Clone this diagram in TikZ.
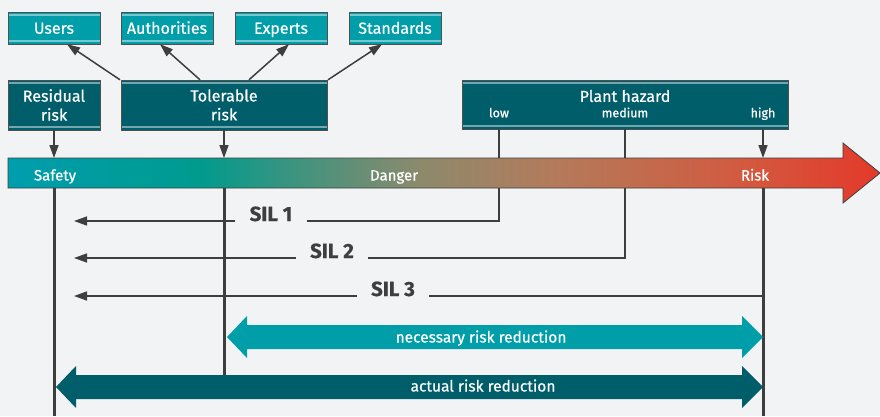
\documentclass[tikz,border=0pt]{standalone}
\usepackage{fontspec}
\setmainfont[FakeBold=0.6]{Fira Sans}
\usetikzlibrary{positioning,arrows.meta}

\definecolor{bggrey}{HTML}{F2F3F5}
\definecolor{linegrey}{HTML}{3E3E3E}
\definecolor{boxedge}{HTML}{505050}
\definecolor{tealbright}{HTML}{009EA8}
\definecolor{tealdeep}{HTML}{005E6A}
\definecolor{barA}{HTML}{009DAE}
\definecolor{barB}{HTML}{009B8E}
\definecolor{barC}{HTML}{8C8A6C}
\definecolor{barD}{HTML}{B47A5A}
\definecolor{barE}{HTML}{D25A40}
\definecolor{barF}{HTML}{E4392A}

% stops live between 25bp and 75bp, the part TikZ fits to the path
\pgfdeclarehorizontalshading{riskbar}{100bp}{color(0bp)=(barA); color(25bp)=(barA); color(36bp)=(barB); color(48.5bp)=(barC); color(56.5bp)=(barD); color(67bp)=(barE); color(75bp)=(barF); color(100bp)=(barF)}

\tikzset{
  stripes/.style={path picture={
    \draw[white,opacity=.45,line width=1.5pt] ([yshift=-3pt]path picture bounding box.north west) -- ([yshift=-3pt]path picture bounding box.north east);
    \draw[white,opacity=.45,line width=1.5pt] ([yshift=3pt]path picture bounding box.south west) -- ([yshift=3pt]path picture bounding box.south east);}},
  lightbox/.style={draw=boxedge,fill=tealbright,text=white,inner sep=0pt,minimum width=92pt,minimum height=32pt,text height=11.5pt,text depth=0pt,font=\fontsize{16}{19}\selectfont,stripes},
  darkbox/.style={draw=boxedge,fill=tealdeep,text=white,inner sep=0pt,minimum height=50pt,align=center,font=\fontsize{16}{19}\selectfont,stripes},
  arr/.style={draw=linegrey,line width=1.5pt,-{Triangle[length=13pt,width=9pt]}},
  post/.style={draw=linegrey,line width=3pt},
  silline/.style={draw=linegrey,line width=1.6pt},
  sillabel/.style={anchor=base,inner xsep=14pt,inner ysep=2pt,text=linegrey,font=\fontsize{20.5}{24}\bfseries\selectfont},
  barlabel/.style={text=white,inner sep=1pt,text height=11pt,text depth=0pt,font=\fontsize{15}{18}\selectfont},
  reduclabel/.style={text=white,inner sep=1pt,text height=11pt,text depth=0pt,font=\fontsize{15.5}{18}\selectfont}
}

\begin{document}
\begin{tikzpicture}[x=1pt,y=-1pt]

  %background
  \fill[bggrey] (0,0) rectangle (880,416);
  \useasboundingbox (0,0) rectangle (880,416);

  %helper coordinates
  \coordinate (bartop) at (0,158);
  \coordinate (barbot) at (0,188);
  \coordinate (silend) at (74,0);
  \coordinate (actualtop) at (0,375);
  \coordinate (picbot) at (0,416);

  %top boxes
  \node[lightbox] (users) at (54,28) {Users};
  \node[lightbox] (authorities) at (167,28) {Authorities};
  \node[lightbox] (experts) at (281,28) {Experts};
  \node[lightbox] (standards) at (395,28) {Standards};

  %risk boxes
  \node[darkbox,minimum width=92pt] (residual) at (54,105) {Residual\\risk};
  \node[darkbox,minimum width=206pt] (tolerable) at (224,105) {Tolerable\\risk};
  \node[darkbox,minimum width=326pt,minimum height=49pt] (hazard) at (625,104.5) {};
  \node[text=white,inner sep=1pt,font=\fontsize{16}{19}\selectfont] (hazardname) at (625,96) {Plant hazard};
  \node[text=white,inner sep=1pt,text height=9pt,text depth=2.5pt,font=\fontsize{12.5}{14}\selectfont] (low) at (499,114) {low};
  \node[text=white,inner sep=1pt,text height=9pt,text depth=2.5pt,font=\fontsize{12.5}{14}\selectfont] (medium) at (625,114) {medium};
  \node[text=white,inner sep=1pt,text height=9pt,text depth=2.5pt,font=\fontsize{12.5}{14}\selectfont] (high) at (763,114) {high};

  %tolerable risk is set by
  \draw[arr] ([xshift=-104pt]tolerable.north) -- ([xshift=13pt]users.south);
  \draw[arr] ([xshift=-24pt]tolerable.north) -- ([xshift=-7pt]authorities.south);
  \draw[arr] ([xshift=25pt]tolerable.north) -- ([xshift=8pt]experts.south);
  \draw[arr] ([xshift=104pt]tolerable.north) -- ([xshift=-13pt]standards.south);

  %SIL levels
  \node[sillabel] (sil1) at (271,221) {SIL 1};
  \node[sillabel] (sil2) at (332,258) {SIL 2};
  \node[sillabel] (sil3) at (393,296) {SIL 3};
  \draw[arr] (sil1.base west) -- (sil1.base west -| silend);
  \draw[arr] (sil2.base west) -- (sil2.base west -| silend);
  \draw[arr] (sil3.base west) -- (sil3.base west -| silend);
  \draw[silline] (sil1.base east) -| (low |- hazard.south);
  \draw[silline] (sil2.base east) -| (medium |- hazard.south);
  \draw[silline] (sil3.base east) -- (sil3.base east -| high);

  %risk bar
  \shade[shading=riskbar,draw=linegrey,line width=0.8pt] (8,158) -- (843,158) -- (843,143) -- (880,173) -- (843,203) -- (843,188) -- (8,188) -- cycle;
  \node[barlabel] (safety) at (55,175) {Safety};
  \node[barlabel] (danger) at (394,175) {Danger};
  \node[barlabel] (risk) at (755,175) {Risk};

  %into the bar
  \draw[arr] (residual.south) -- (residual.south |- bartop);
  \draw[arr] (tolerable.south) -- (tolerable.south |- bartop);
  \draw[arr] (high |- hazard.south) -- (high |- bartop);

  %posts
  \draw[post] (residual.south |- barbot) -- (residual.south |- picbot);
  \draw[post] (tolerable.south |- barbot) -- (tolerable.south |- actualtop);
  \draw[post] (high |- barbot) -- (high |- picbot);

  %risk reductions
  \fill[tealbright] (227,337) -- (247,316) -- (247,325) -- (742,325) -- (742,316) -- (763,337) -- (742,358) -- (742,349) -- (247,349) -- (247,358) -- cycle;
  \node[reduclabel] (necessary) at (481,337) {necessary risk reduction};
  \fill[tealdeep] (56,387) -- (76,366) -- (76,375) -- (742,375) -- (742,366) -- (763,387) -- (742,408) -- (742,399) -- (76,399) -- (76,408) -- cycle;
  \node[reduclabel] (actual) at (483,386) {actual risk reduction};
\end{tikzpicture}
\end{document}
